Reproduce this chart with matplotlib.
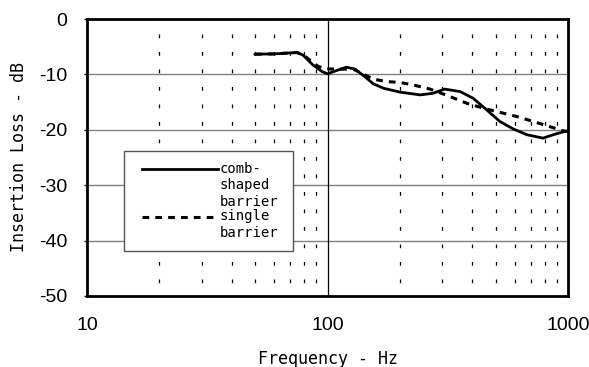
import numpy as np
import matplotlib
matplotlib.use("Agg")
import matplotlib.pyplot as plt
from matplotlib.legend_handler import HandlerLine2D

plt.rcParams["axes.unicode_minus"] = False

# comb-shaped barrier (solid)
comb_f = [50, 60, 74.5, 79, 87, 95, 100, 109, 120, 130, 143, 155, 171, 200,
          243, 275, 307, 356, 403, 459, 521, 592, 676, 787, 897, 970, 1000]
comb_il = [-6.35, -6.3, -6.05, -6.5, -8.3, -9.5, -9.9, -9.3, -8.7, -9.05,
           -10.4, -11.7, -12.5, -13.2, -13.7, -13.4, -12.65, -13.1, -14.3,
           -16.4, -18.5, -19.85, -20.9, -21.5, -20.7, -20.3, -20.2]

# single barrier (dashed)
single_f = [50, 60, 74.5, 79, 87, 92, 99, 110, 128, 155, 176, 200, 227, 267,
            323, 379, 445, 521, 612, 717, 815, 957, 1000]
single_il = [-6.35, -6.3, -6.05, -6.4, -7.9, -8.6, -9.0, -9.05, -9.05, -10.85,
             -11.3, -11.45, -11.9, -12.65, -14.0, -15.2, -16.1, -16.85, -17.6,
             -18.5, -19.25, -20.2, -20.3]

y_ticks = [0, -10, -20, -30, -40, -50]
minor_f = [20, 30, 40, 50, 60, 70, 80, 90, 200, 300, 400, 500, 600, 700, 800, 900]

mono = "DejaVu Sans Mono"


class TopHandler(HandlerLine2D):
    """legend line drawn next to the first text line, inset from the left"""
    def __init__(self, shift, inset, **kw):
        super().__init__(**kw)
        self.shift = shift
        self.inset = inset

    def create_artists(self, legend, orig_handle, xdescent, ydescent, width,
                       height, fontsize, trans):
        arts = super().create_artists(legend, orig_handle, xdescent, ydescent,
                                      width, height, fontsize, trans)
        for a in arts:
            xd = np.asarray(a.get_xdata(), dtype=float)
            a.set_xdata(np.linspace(xd.min() + self.inset * fontsize, xd.max(), len(xd)))
            a.set_ydata(np.asarray(a.get_ydata()) + self.shift * fontsize)
        return arts


fig = plt.figure(figsize=(5.89, 3.67), dpi=100)
ax = fig.add_axes([87 / 589, 1 - 296 / 367, 481 / 589, 277 / 367])

ax.set_xscale("log")
ax.set_xlim(10, 1000)
ax.set_ylim(-50, 0)

# grid
for y in y_ticks[1:-1]:
    ax.axhline(y, color="#808080", lw=1, zorder=1)
ax.axvline(100, color="black", lw=0.9, zorder=1)
ax.vlines(minor_f, 0, -50, colors="black", lw=0.9,
          linestyles=[(2, (3, 11))], zorder=1)

l1, = ax.plot(comb_f, comb_il, color="black", lw=2, zorder=3,
              solid_joinstyle="round", label="comb-\nshaped\nbarrier")
l2, = ax.plot(single_f, single_il, color="black", lw=2.2, ls=(0, (2.2, 2.0)),
              zorder=2, label="single\nbarrier")

ax.set_yticks(y_ticks)
ax.set_xticks([10, 100, 1000])
ax.set_xticklabels(["10", "100", "1000"])
ax.minorticks_off()
ax.tick_params(axis="y", direction="out", length=2, width=1, pad=12,
               labelsize=14)
ax.tick_params(axis="x", length=0, pad=15, labelsize=14)
for t in ax.get_xticklabels() + ax.get_yticklabels():
    t.set_family("Liberation Sans")

for s in ax.spines.values():
    s.set_linewidth(2)

ax.set_xlabel("Frequency - Hz", family=mono, fontsize=12, labelpad=12)
ax.set_ylabel("Insertion Loss - dB", family=mono, fontsize=12, labelpad=8)

leg = ax.legend(handles=[l1, l2], loc="lower left",
                bbox_to_anchor=(37 / 481, 45 / 277, 169 / 481, 101 / 277),
                mode="expand", borderaxespad=0,
                prop={"family": mono, "size": 10}, frameon=True,
                fancybox=False, edgecolor="#555555", framealpha=1,
                handlelength=6.0, handletextpad=0.1, labelspacing=0.0,
                borderpad=0.8,
                handler_map={l1: TopHandler(1.25, 0.5), l2: TopHandler(0.62, 0.5)})
leg.get_frame().set_linewidth(1)
for t in leg.get_texts():
    t.set_linespacing(1.25)

fig.savefig("out.png", dpi=100)
